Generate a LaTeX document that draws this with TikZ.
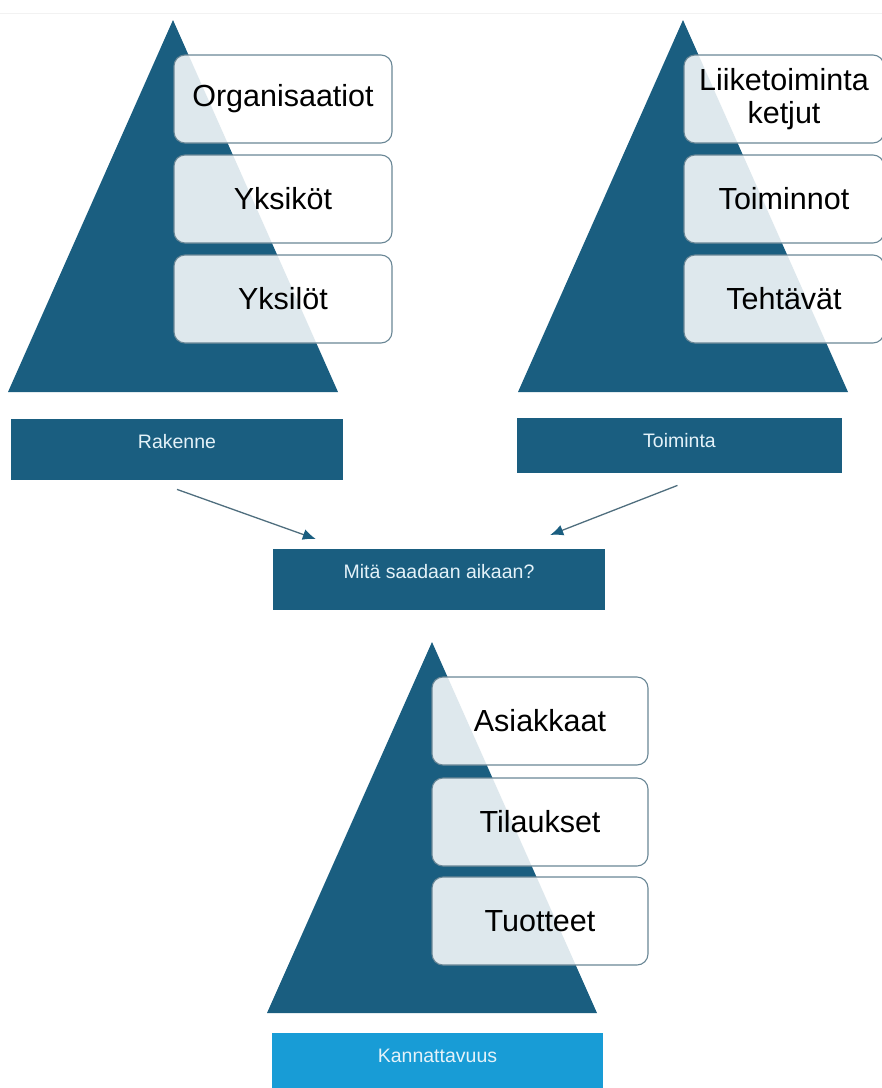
\documentclass[tikz,border=0pt]{standalone}
\usepackage{fontspec}
\setmainfont{Liberation Sans}
\usetikzlibrary{arrows.meta}
\tikzset{>={Latex[length=12pt,width=10pt]}}
\definecolor{cdark}{HTML}{1A5E80}
\definecolor{clight}{HTML}{189CD6}
\definecolor{cedge}{HTML}{6A8796}
\definecolor{cline}{HTML}{4F6E7E}
\definecolor{ctext}{HTML}{E4F2F9}
\tikzset{
    tier/.style={draw=cedge, line width=1.1pt, fill=white, fill opacity=.86, text opacity=1,
        rounded corners=11pt, minimum height=88pt, inner sep=0pt, align=center,
        font=\fontsize{30.5}{33}\selectfont},
    band/.style={fill=cdark, text=ctext, anchor=north, inner ysep=0pt, text height=29pt,
        font=\fontsize{19.5}{22}\selectfont},
    link/.style={->, draw=cline, line width=1.3pt, >={Latex[length=13pt,width=11pt,color=cdark]}}
}

\begin{document}
\begin{tikzpicture}[x=1pt, y=-1pt]
    \useasboundingbox (0, 0) rectangle (882, 1088);
    \clip (0, 0) rectangle (882, 1088);
    \draw[gray!10, line width=1pt](0, 13)--(882, 13);
    % pyramids
    \fill[cdark](173, 20)--(338, 392)--(8, 392)--cycle;
    \fill[cdark](683, 20)--(848, 392)--(518, 392)--cycle;
    \fill[cdark](432, 642)--(597, 1013)--(267, 1013)--cycle;
    % left levels
    \node[tier, minimum width=218pt](org) at (283, 99){Organisaatiot};
    \node[tier, minimum width=218pt](yks) at (283, 199){Yksiköt};
    \node[tier, minimum width=218pt](ysl) at (283, 299){Yksilöt};
    % right levels
    \node[tier, minimum width=200pt](lii) at (784, 99){Liiketoiminta\\ketjut};
    \node[tier, minimum width=200pt](toi) at (784, 199){Toiminnot};
    \node[tier, minimum width=200pt](teh) at (784, 299){Tehtävät};
    % bottom levels
    \node[tier, minimum width=216pt](asi) at (540, 721){Asiakkaat};
    \node[tier, minimum width=216pt](til) at (540, 822){Tilaukset};
    \node[tier, minimum width=216pt](tuo) at (540, 921){Tuotteet};
    % bands
    \node[band, minimum width=332pt, text depth=32pt](rak) at (177, 419){Rakenne};
    \node[band, minimum width=325pt, text depth=26pt](tom) at (679.5, 418){Toiminta};
    \node[band, minimum width=332pt, text depth=32pt](mit) at (439, 549){Mitä saadaan aikaan?};
    \node[band, fill=clight, minimum width=331pt, text depth=40pt](kan) at (437.5, 1033){Kannattavuus};
    % arrows
    \coordinate(r1) at ([yshift=-9pt]rak.south);
    \coordinate(r2) at ([xshift=43pt, yshift=10pt]mit.north west);
    \coordinate(t1) at ([xshift=-2pt, yshift=-12pt]tom.south);
    \coordinate(t2) at ([xshift=-55pt, yshift=14pt]mit.north east);
    \draw[link](r1)--(r2);
    \draw[link](t1)--(t2);
\end{tikzpicture}
\end{document}
